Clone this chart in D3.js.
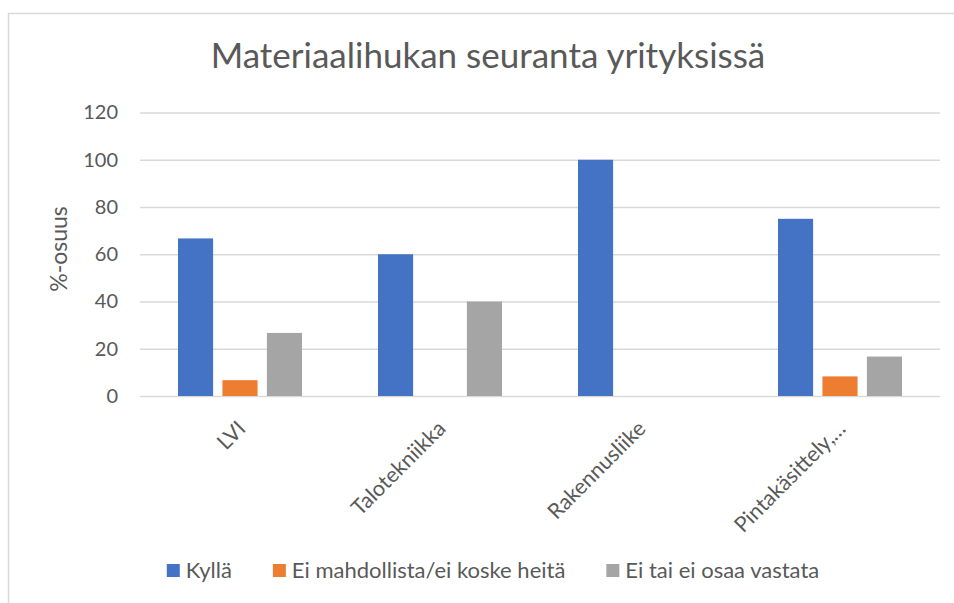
<!DOCTYPE html>
<html>
<head>
<meta charset="utf-8">
<script src="https://cdn.jsdelivr.net/npm/d3@7"></script>
<style>
  body { margin: 0; background: #fff; }
  text { font-family: Lato, "Open Sans", sans-serif; fill: #595959; }
</style>
</head>
<body>
<div id="chart"></div>
<script>
const categories = ["LVI", "Talotekniikka", "Rakennusliike", "Pintakäsittely,…"];
const series = ["Kyllä", "Ei mahdollista/ei koske heitä", "Ei tai ei osaa vastata"];
const kylla = [66.7, 60, 100, 75];
const eiMahdollista = [6.7, 0, 0, 8.3];
const eiTai = [26.7, 40, 0, 16.7];
const yTicks = [0, 20, 40, 60, 80, 100, 120];
const colors = ["#4472C4", "#ED7D31", "#A5A5A5"];

const values = [kylla, eiMahdollista, eiTai];
const data = categories.map((c, i) => ({
  cat: c,
  vals: series.map((s, j) => ({ key: s, value: values[j][i] }))
}));

const width = 954, height = 603;
const plot = { left: 140, right: 940, top: 112.5, bottom: 396 };

const svg = d3.select("#chart").append("svg")
  .attr("width", width)
  .attr("height", height);

// chart border
svg.append("rect")
  .attr("x", 8.5).attr("y", 13.5)
  .attr("width", 980).attr("height", 620)
  .attr("fill", "none")
  .attr("stroke", "#d9d9d9")
  .attr("stroke-width", 1.5);

// title
svg.append("text")
  .attr("x", 488).attr("y", 68)
  .attr("text-anchor", "middle")
  .style("font-size", "35px")
  .text("Materiaalihukan seuranta yrityksissä");

// scales
const x0 = d3.scaleBand()
  .domain(categories)
  .range([plot.left, plot.right])
  .paddingInner(0.38)
  .paddingOuter(0.19);

const x1 = d3.scaleBand()
  .domain(series)
  .range([0, x0.bandwidth()])
  .paddingInner(0.21);

const y = d3.scaleLinear()
  .domain([0, 120])
  .range([plot.bottom, plot.top]);

const color = d3.scaleOrdinal().domain(series).range(colors);

// gridlines + y labels
const yAxis = svg.append("g")
  .attr("transform", `translate(${plot.left},0)`)
  .call(d3.axisLeft(y).tickValues(yTicks).tickSize(-(plot.right - plot.left)).tickPadding(22));

yAxis.select(".domain").remove();
yAxis.selectAll(".tick line").attr("stroke", "#d9d9d9").attr("stroke-width", 1.5);
yAxis.selectAll(".tick text")
  .style("font-size", "20px")
  .style("font-family", "Lato, sans-serif")
  .attr("fill", "#595959");

// y axis title
svg.append("text")
  .attr("transform", "translate(67,249) rotate(-90)")
  .attr("text-anchor", "middle")
  .style("font-size", "23px")
  .text("%-osuus");

// bars
svg.append("g")
  .selectAll("g")
  .data(data)
  .join("g")
  .attr("transform", (d) => `translate(${x0(d.cat)},0)`)
  .selectAll("rect")
  .data((d) => d.vals)
  .join("rect")
  .attr("x", (d) => x1(d.key))
  .attr("width", x1.bandwidth())
  .attr("y", (d) => y(d.value))
  .attr("height", (d) => y(0) - y(d.value))
  .attr("fill", (d) => color(d.key));

// x labels
const xAxis = svg.append("g")
  .attr("transform", `translate(0,${plot.bottom})`)
  .call(d3.axisBottom(x0).tickSize(0).tickPadding(0));

xAxis.select(".domain").remove();
xAxis.selectAll(".tick text")
  .style("font-size", "21.5px")
  .style("font-family", "Lato, sans-serif")
  .attr("fill", "#595959")
  .attr("text-anchor", "end")
  .attr("dy", "0")
  .attr("transform", "translate(7,34) rotate(-45)");

// legend
const legend = svg.append("g");
const items = legend.selectAll("g")
  .data(series)
  .join("g");

items.append("rect")
  .attr("width", 13).attr("height", 13)
  .attr("y", 564)
  .attr("fill", (d) => color(d));

items.append("text")
  .attr("x", 19).attr("y", 578)
  .style("font-size", "22px")
  .text((d) => d);

let lx = 0;
const gap = 41;
const offsets = [];
items.each(function () {
  offsets.push(lx);
  lx += this.getBBox().width + gap;
});
const total = lx - gap;
const startX = 493 - total / 2;
items.attr("transform", (d, i) => `translate(${startX + offsets[i]},0)`);
</script>
</body>
</html>
